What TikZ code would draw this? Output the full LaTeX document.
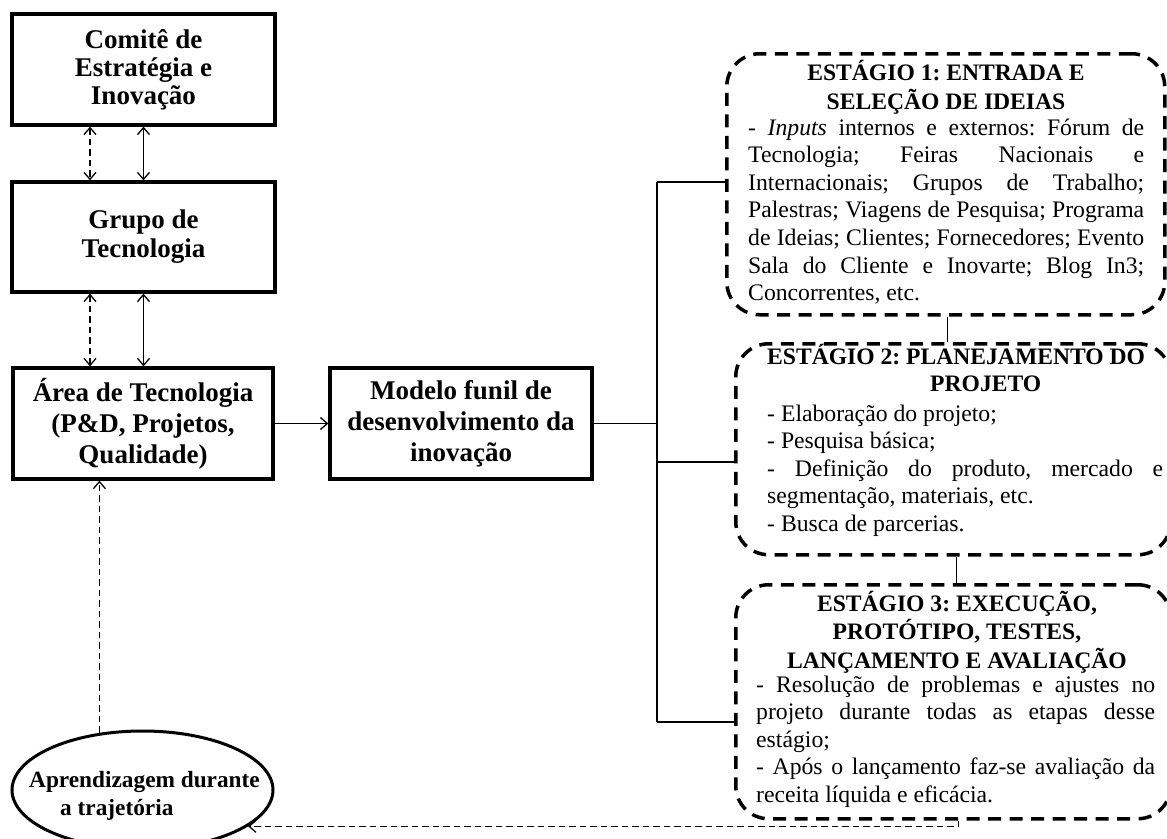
\documentclass[tikz,border=0pt]{standalone}
\usepackage{fontspec}
\setmainfont{Liberation Serif}
\usetikzlibrary{arrows.meta,shapes.geometric}
\newcommand\jst[2][396pt]{\makebox[#1][s]{#2}}
\frenchspacing
\begin{document}
\begin{tikzpicture}[x=1pt,y=-1pt,
  blk/.style={draw, line width=3.3pt, inner sep=0pt, align=center,
              font=\fontsize{27}{31}\selectfont\bfseries},
  stg/.style={draw, line width=3.5pt, dash pattern=on 13pt off 8.5pt,
              rounded corners=33pt, inner sep=0pt, anchor=north west},
  stgtitle/.style={inner sep=0pt, font=\fontsize{23.6}{27.5}\selectfont\bfseries},
  stgbody/.style={inner sep=0pt, anchor=base west, font=\fontsize{23.7}{27.6}\selectfont},
  thinln/.style={line width=1.2pt},
  arr/.style={line width=1.3pt, -{Straight Barb[length=7pt,width=12pt]}},
  biarr/.style={line width=1.3pt, {Straight Barb[length=7pt,width=12pt]}-{Straight Barb[length=7pt,width=12pt]}},
  dsh/.style={dash pattern=on 6.5pt off 4pt}]
\useasboundingbox (0,0) rectangle (1167,838);
\clip (0,0) rectangle (1167,838);

% left column
\node[blk, minimum width=263pt, minimum height=111pt,
      font=\fontsize{27}{28}\selectfont\bfseries] (c1) at (143.5,69.5)
  {Comitê de\\Estratégia e\\Inovação};
\node[blk, minimum width=263pt, minimum height=110pt,
      font=\fontsize{27}{29}\selectfont\bfseries] (c2) at (143.5,237)
  {\raisebox{-4pt}{\begin{tabular}{@{}c@{}}Grupo de\\Tecnologia\end{tabular}}};
\node[blk, minimum width=260pt, minimum height=111pt] (c3) at (143,423.5)
  {Área de Tecnologia\\(P\&D, Projetos,\\Qualidade)};
\node[blk, minimum width=262pt, minimum height=111pt] (c4) at (461,423.5)
  {Modelo funil de\\desenvolvimento da\\inovação};

% ellipse
\node[draw, ellipse, line width=3pt, minimum width=261pt, minimum height=118pt,
      inner sep=0pt] (ell) at (142.5,790) {};
\node[inner sep=0pt, anchor=base west, font=\fontsize{23.3}{28}\selectfont\bfseries]
  (elltxt) at (29,787)
  {\begin{tabular}[t]{@{}l@{}}Aprendizagem durante\\\hspace*{31pt}a trajetória\end{tabular}};

% arrows between left boxes
\draw[biarr, dsh] ([xshift=-53.5pt]c1.south) -- ([xshift=-53.5pt]c2.north);
\draw[biarr] (c1.south) -- (c2.north);
\draw[biarr, dsh] ([xshift=-53.5pt]c2.south) -- ([xshift=-53.5pt]c2.south |- c3.north);
\draw[biarr] (c2.south) -- (c2.south |- c3.north);
\draw[arr] (c3.east) -- (c4.west);
\draw[arr, dsh] (ell.127.7) -- (ell.127.7 |- c3.south);

% stage boxes
\node[stg, minimum width=438pt, minimum height=261pt] (s1) at (725,52) {};
\node[stg, minimum width=435pt, minimum height=211pt] (s2) at (734,342) {};
\node[stg, minimum width=435pt, minimum height=234pt] (s3) at (734,583) {};

% bus
\coordinate (b1) at (657,182);
\coordinate (b2) at (657,462);
\coordinate (b3) at (657,722);
\draw[thinln] (b1) -- (b3);
\draw[thinln] (c4.east) -- (c4.east -| b1);
\draw[thinln] (b1) -- (b1 -| s1.west);
\draw[thinln] (b2) -- (b2 -| s2.west);
\draw[thinln] (b3) -- (b3 -| s3.west);
\draw[thinln] ([xshift=2pt]s1.south) -- ([xshift=2pt]s1.south |- s2.north);
\draw[thinln] ([xshift=3pt]s2.south) -- ([xshift=3pt]s2.south |- s3.north);
\draw[arr, dsh] ([xshift=5pt]s3.south) |- (ell.-19.26);

% stage 1 text
\node[stgtitle, anchor=base] (s1t) at (946,80.5)
  {\begin{tabular}[t]{@{}c@{}}ESTÁGIO 1: ENTRADA E\\SELEÇÃO DE IDEIAS\end{tabular}};
\node[stgbody] (s1b) at (748,135)
  {\begin{tabular}[t]{@{}l@{}}
   \jst{- \textit{Inputs} internos e externos: Fórum de}\\
   \jst{Tecnologia; Feiras Nacionais e}\\
   \jst{Internacionais; Grupos de Trabalho;}\\
   \jst{Palestras; Viagens de Pesquisa; Programa}\\
   \jst{de Ideias; Clientes; Fornecedores; Evento}\\
   \jst{Sala do Cliente e Inovarte; Blog In3;}\\
   Concorrentes, etc.
   \end{tabular}};

% stage 2 text
\node[stgtitle, anchor=base west] (s2t) at (767,364)
  {\begin{tabular}[t]{@{}l@{}}ESTÁGIO 2: PLANEJAMENTO DO\\\hspace*{163pt}PROJETO\end{tabular}};
\node[stgbody] (s2b) at (767,421)
  {\begin{tabular}[t]{@{}l@{}}
   - Elaboração do projeto;\\
   - Pesquisa básica;\\
   \jst{- Definição do produto, mercado e}\\
   segmentação, materiais, etc.\\
   - Busca de parcerias.
   \end{tabular}};

% stage 3 text
\node[stgtitle, anchor=base] (s3t) at (957,611)
  {\begin{tabular}[t]{@{}c@{}}ESTÁGIO 3: EXECUÇÃO,\\PROTÓTIPO, TESTES,\\LANÇAMENTO E AVALIAÇÃO\end{tabular}};
\node[stgbody] (s3b) at (756,692)
  {\begin{tabular}[t]{@{}l@{}}
   \jst[399pt]{- Resolução de problemas e ajustes no}\\
   \jst[399pt]{projeto durante todas as etapas desse}\\
   estágio;\\
   \jst[399pt]{- Após o lançamento faz-se avaliação da}\\
   receita líquida e eficácia.
   \end{tabular}};
\end{tikzpicture}
\end{document}
